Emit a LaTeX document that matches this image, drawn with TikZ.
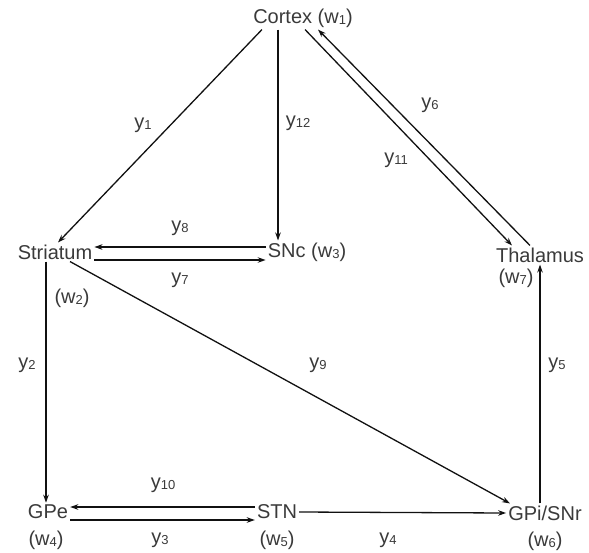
\documentclass[tikz,border=0pt]{standalone}
\usepackage{fontspec}
\setmainfont{Liberation Sans}
\usetikzlibrary{arrows.meta}
\definecolor{ink}{HTML}{111111}
\definecolor{txt}{HTML}{3A3A3A}
\newcommand{\ix}[1]{{\fontsize{13}{13}\selectfont\raisebox{-1pt}{#1}}}

\begin{document}
\begin{tikzpicture}[x=1pt,y=-1pt,font=\fontsize{20}{22}\selectfont,
    region/.style={text=txt,inner sep=2pt},
    wlab/.style={text=txt,inner sep=1pt},
    ylab/.style={text=txt,inner sep=1pt},
    link/.style={draw=ink,line width=1.3pt,-{Stealth[length=8pt,width=5.5pt]}}]
    \useasboundingbox (0,0) rectangle (589,552);

    % the regions, at the places they sit in the reference
    \node[region] (ctx)  at (303,18)  {Cortex (w\ix{1})};
    \node[region] (str)  at (55,252)  {Striatum};
    \node[region] (snc)  at (307,252) {SNc (w\ix{3})};
    \node[region] (thal) at (540,255) {Thalamus};
    \node[region] (gpe)  at (48,512)  {GPe};
    \node[region] (stn)  at (277,512) {STN};
    \node[region] (gpi)  at (545,513) {GPi/SNr};

    % weights printed under (or beside) their region
    \node[wlab] (w2) at (72,298)  {(w\ix{2})};
    \node[wlab] (w7) at (516,278) {(w\ix{7})};
    \node[wlab] (w4) at (46,540)  {(w\ix{4})};
    \node[wlab] (w5) at (277,540) {(w\ix{5})};
    \node[wlab] (w6) at (545,541) {(w\ix{6})};

    % projections out of cortex
    \draw[link] ([xshift=-41pt]ctx.south) -- ([xshift=3pt]str.north);
    \draw[link] ([xshift=-25pt]ctx.south) -- ([xshift=-29pt]snc.north);
    \draw[link] ([xshift=2pt]ctx.south)   -- ([xshift=-28pt]thal.north);
    \draw[link] ([xshift=-10pt]thal.north) -- ([xshift=15pt]ctx.south);

    % striatum <-> SNc, and the two ways down
    \draw[link] ([yshift=5pt]snc.west)  -- ([yshift=5pt]str.east);
    \draw[link] ([yshift=-8pt]str.east) -- ([yshift=-8pt]snc.west);
    \draw[link] ([xshift=-9pt]str.south) -- ([xshift=-2pt]gpe.north);
    \draw[link] ([xshift=15pt]str.south) -- ([xshift=-35pt]gpi.north);

    % bottom row and back up to thalamus
    \draw[link] ([yshift=5pt]stn.west)  -- ([yshift=5pt]gpe.east);
    \draw[link] ([yshift=-8pt]gpe.east) -- ([yshift=-8pt]stn.west);
    \draw[link] (stn.east) -- (gpi.west);
    \draw[link] ([xshift=-5pt]gpi.north) -- (thal.south);

    % gains
    \node[ylab] (y1)  at (143,125) {y\ix{1}};
    \node[ylab] (y12) at (298,123) {y\ix{12}};
    \node[ylab] (y6)  at (430,105) {y\ix{6}};
    \node[ylab] (y11) at (396,160) {y\ix{11}};
    \node[ylab] (y8)  at (180,228) {y\ix{8}};
    \node[ylab] (y7)  at (180,280) {y\ix{7}};
    \node[ylab] (y2)  at (27,365)  {y\ix{2}};
    \node[ylab] (y9)  at (318,365) {y\ix{9}};
    \node[ylab] (y5)  at (557,365) {y\ix{5}};
    \node[ylab] (y10) at (163,485) {y\ix{10}};
    \node[ylab] (y3)  at (160,540) {y\ix{3}};
    \node[ylab] (y4)  at (388,540) {y\ix{4}};
\end{tikzpicture}
\end{document}
